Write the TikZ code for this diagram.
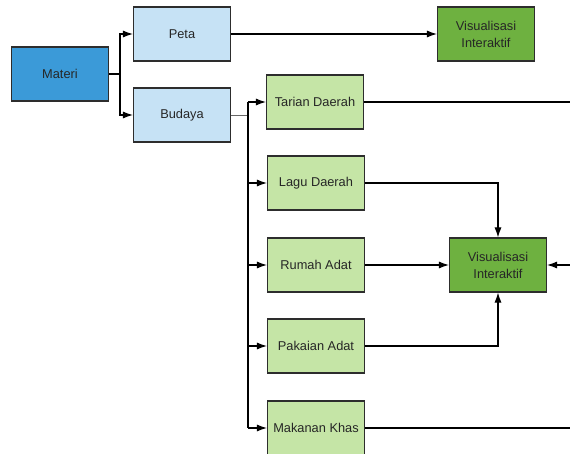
\documentclass[tikz,border=0pt]{standalone}
\usepackage{fontspec}
\setmainfont{Liberation Sans}
\usetikzlibrary{arrows.meta}
\definecolor{matblue}{RGB}{59,154,216}
\definecolor{lightblue}{RGB}{198,226,245}
\definecolor{darkgreen}{RGB}{110,177,64}
\definecolor{lightgreen}{RGB}{197,229,166}
\definecolor{edge}{RGB}{45,45,45}
\begin{document}
\begin{tikzpicture}[x=1pt,y=-1pt,
  box/.style={draw=edge, line width=1.1pt, minimum width=97pt, minimum height=54pt,
    inner sep=0pt, align=center, text=black!85, font=\fontsize{12.8}{17}\selectfont},
  bluebox/.style={box, fill=lightblue},
  matbox/.style={box, fill=matblue},
  visbox/.style={box, fill=darkgreen},
  greenbox/.style={box, fill=lightgreen},
  conn/.style={draw=black, line width=1.1pt},
  arr/.style={conn, -{Latex[length=10pt,width=7pt]}}]
\useasboundingbox (0,0) rectangle (570,454);
\node[matbox] (materi) at (60,74) {Materi};
\node[bluebox] (peta) at (182,34) {Peta};
\node[bluebox] (budaya) at (182,115) {Budaya};
\node[visbox] (vis1) at (486,34) {Visualisasi\\Interaktif};
\node[greenbox] (tarian) at (315,102) {Tarian Daerah};
\node[greenbox] (lagu) at (316,183) {Lagu Daerah};
\node[greenbox] (rumah) at (316,265) {Rumah Adat};
\node[greenbox] (pakaian) at (316,346) {Pakaian Adat};
\node[greenbox] (makanan) at (316,428) {Makanan Khas};
\node[visbox] (vis2) at (498,265) {Visualisasi\\Interaktif};
% Materi branches
\coordinate (m1) at (120,74);
\draw[conn] (materi.east) -- (m1);
\draw[arr] (m1) |- (peta.west);
\draw[arr] (m1) |- (budaya.west);
\draw[arr] (peta.east) -- (vis1.west);
% Budaya branches
\coordinate (b1) at (248,115);
\coordinate (vtop) at (248,102);
\coordinate (vbot) at (248,428);
\draw[draw=black!60, line width=0.8pt] (budaya.east) -- (b1);
\draw[conn] (vtop) -- (vbot);
\draw[arr] (vtop) -- (tarian.west);
\draw[arr] (vtop |- lagu.west) -- (lagu.west);
\draw[arr] (vtop |- rumah.west) -- (rumah.west);
\draw[arr] (vtop |- pakaian.west) -- (pakaian.west);
\draw[arr] (vbot) -- (makanan.west);
% outputs
\coordinate (tr) at (570,102);
\draw[conn] (tarian.east) -- (tr);
\draw[arr] (lagu.east) -| (vis2.north);
\draw[arr] (rumah.east) -- (vis2.west);
\draw[arr] (pakaian.east) -| (vis2.south);
\coordinate (rr) at (570,265);
\draw[arr] (rr) -- (vis2.east);
\coordinate (mr) at (570,428);
\draw[conn] (makanan.east) -- (mr);
\end{tikzpicture}
\end{document}
